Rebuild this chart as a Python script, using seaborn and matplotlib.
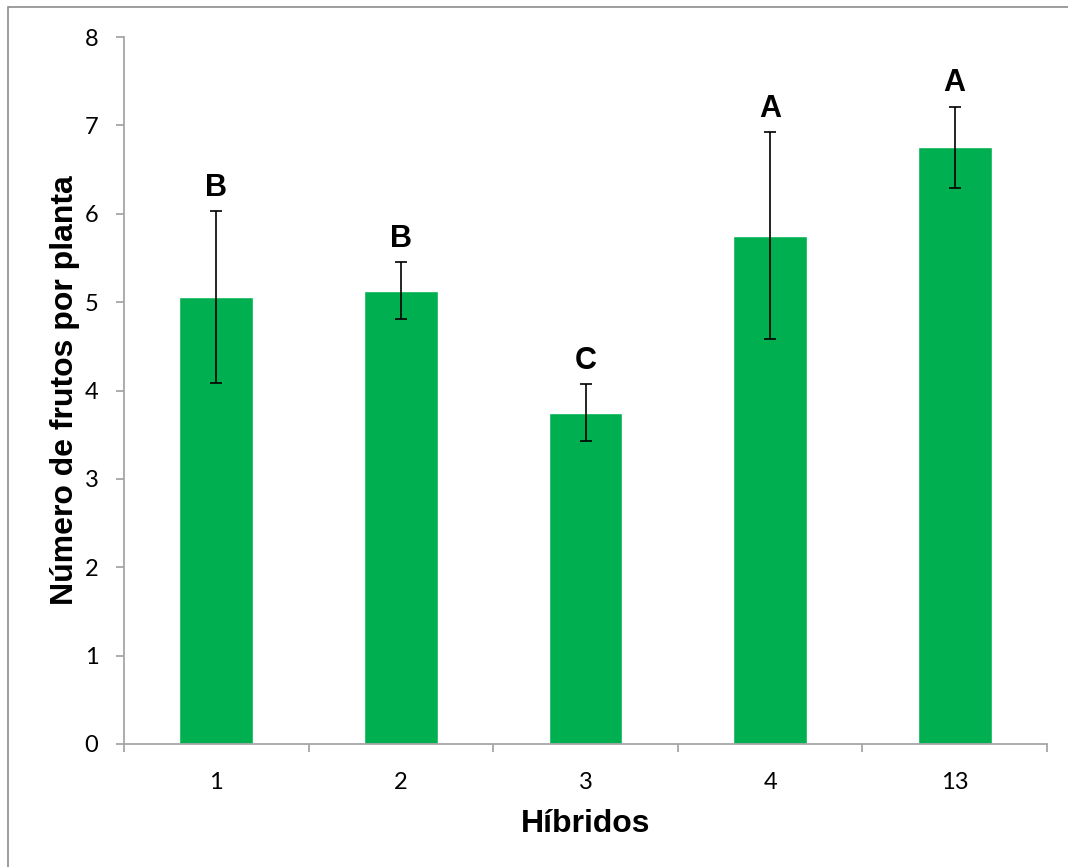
import matplotlib
matplotlib.use("Agg")
import matplotlib.pyplot as plt
import seaborn as sns
import pandas as pd
from matplotlib.patches import Rectangle

# Fruit count per plant for each hybrid
hibridos = ["1", "2", "3", "4", "13"]
frutos_media = [5.06, 5.13, 3.75, 5.75, 6.75]
frutos_erro = [0.97, 0.32, 0.32, 1.17, 0.46]
letras = ["B", "B", "C", "A", "A"]

df = pd.DataFrame({"Híbridos": hibridos, "Frutos": frutos_media})

sns.set_theme(style="white")
plt.rcParams["font.family"] = ["Liberation Sans", "DejaVu Sans"]
plt.rcParams["text.color"] = "black"
plt.rcParams["axes.labelcolor"] = "black"
plt.rcParams["xtick.labelcolor"] = "black"
plt.rcParams["ytick.labelcolor"] = "black"

verde = "#00B050"
cinza = "#A6A6A6"

fig = plt.figure(figsize=(10.68, 8.67), dpi=100)
ax = fig.add_axes([124 / 1068, 1 - 744 / 867, (1047 - 124) / 1068, (744 - 37) / 867])

sns.barplot(data=df, x="Híbridos", y="Frutos", order=hibridos, color=verde,
            saturation=1, width=0.4, errorbar=None, ax=ax)

pos = list(range(len(hibridos)))
ax.errorbar(pos, frutos_media, yerr=frutos_erro, fmt="none", ecolor="black",
            elinewidth=1.2, capsize=4.3, capthick=1.2, zorder=5)

for x, m, e, l in zip(pos, frutos_media, frutos_erro, letras):
    ax.annotate(l, (x, m + e), xytext=(0, 6), textcoords="offset points",
                ha="center", va="bottom", fontsize=22, fontweight="bold",
                color="black")

ax.set_ylim(0, 8)
ax.set_xlim(-0.5, len(hibridos) - 0.5)
ax.set_yticks(range(0, 9))

# category labels without marks; boundary marks as minor ticks
ax.set_xticks(pos)
ax.set_xticklabels(hibridos, fontfamily=["Lato", "DejaVu Sans"], fontsize=17)
ax.set_xticks([p - 0.5 for p in range(len(hibridos) + 1)], minor=True)
ax.tick_params(axis="x", which="major", length=0, pad=20)
ax.tick_params(axis="x", which="minor", direction="out", length=6, width=1.3,
               color=cinza, bottom=True)
ax.tick_params(axis="y", direction="out", length=5.5, width=1.3, color=cinza,
               left=True, pad=13)
for t in ax.get_yticklabels():
    t.set_fontfamily(["Lato", "DejaVu Sans"])
    t.set_fontsize(17)

for s in ["top", "right"]:
    ax.spines[s].set_visible(False)
for s in ["left", "bottom"]:
    ax.spines[s].set_color(cinza)
    ax.spines[s].set_linewidth(1.3)

ax.set_xlabel("Híbridos", fontsize=23, fontweight="bold", labelpad=12)
ax.set_ylabel("Número de frutos por planta", fontsize=23, fontweight="bold",
              labelpad=3)

# outer frame around the chart area
fig.patches.append(Rectangle((8 / 1068, -0.1), 1.2, (867 - 7) / 867 + 0.1,
                             transform=fig.transFigure, fill=False,
                             edgecolor="#8C8C8C", linewidth=1.2, zorder=0))

fig.savefig("out.png", dpi=100)
